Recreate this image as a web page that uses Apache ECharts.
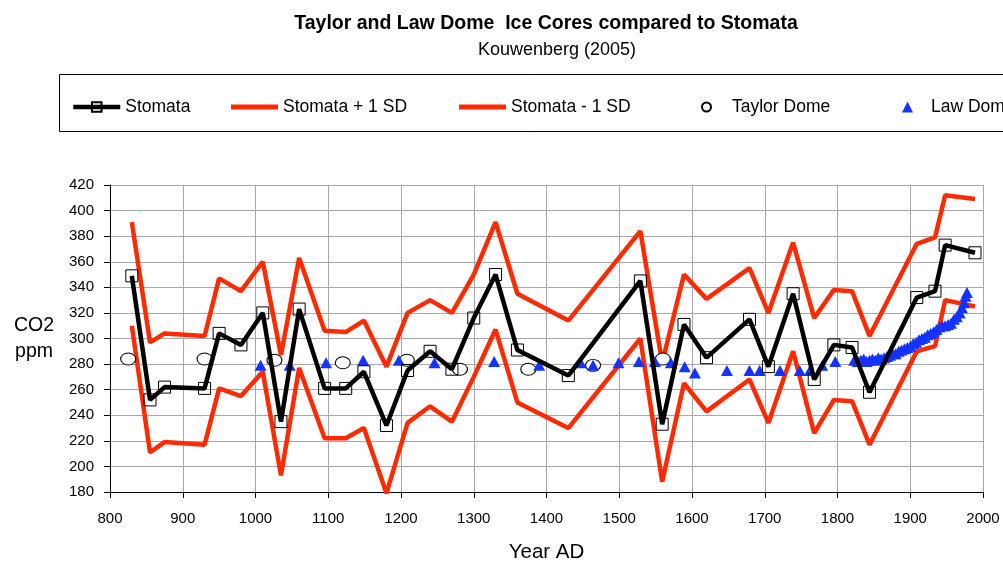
<!DOCTYPE html>
<html><head><meta charset="utf-8">
<script src="https://cdn.jsdelivr.net/npm/echarts@6/dist/echarts.min.js"></script>
<style>html,body{margin:0;padding:0;background:#fff}#c{width:1003px;height:561px}</style>
</head><body><div id="c"></div>
<script>
const stomataYears = [830, 855, 875, 930, 950, 980, 1010, 1035, 1060, 1095, 1124, 1149, 1180, 1209, 1240, 1270, 1300, 1330, 1360, 1430, 1529, 1559, 1589, 1620, 1679, 1705, 1739, 1768, 1795, 1820, 1844, 1909, 1934, 1948, 1989];
const stomata = [349, 252, 262, 261, 304, 295, 320, 235, 323, 261, 261, 274, 232, 275, 290, 276, 316, 350, 291, 271, 345, 233, 311, 285, 315, 278, 335, 268, 295, 293, 258, 332, 337, 373, 367];
const stomataPlus1SD = [391, 297, 304, 302, 347, 337, 360, 287, 363, 306, 305, 314, 278, 320, 330, 320, 350, 391, 335, 314, 384, 281, 350, 331, 355, 320, 375, 316, 338, 337, 302, 374, 379, 412, 409];
const stomataMinus1SD = [310, 211, 219, 217, 261, 255, 274, 193, 277, 222, 222, 230, 179, 234, 247, 235, 270, 307, 250, 230, 300, 188, 265, 243, 268, 234, 290, 226, 252, 251, 217, 290, 294, 330, 325];
const taylorYears = [825, 930, 1026, 1120, 1208, 1281, 1375, 1464, 1560];
const taylorDome = [284, 284, 283, 281, 283, 276, 276, 279, 284];
const lawYears = [1007, 1047, 1097, 1148, 1197, 1246, 1328, 1390, 1447, 1464, 1499, 1527, 1549, 1571, 1590, 1604, 1648, 1679, 1693, 1721, 1748, 1762, 1779, 1797,
  1823, 1828, 1832, 1836, 1840, 1844, 1848, 1852, 1856, 1860, 1864, 1868, 1872, 1876, 1880, 1884, 1888, 1892, 1896, 1900, 1904, 1908, 1912, 1916, 1920, 1924, 1928, 1932, 1936, 1940, 1944, 1948, 1952, 1956, 1960, 1964, 1968, 1971, 1974, 1976, 1978];
const lawDome = [279, 279, 281, 283, 283, 281, 282, 279, 281, 279, 281, 282, 282, 281, 278, 273, 275, 275, 275, 275, 275, 275, 279, 282,
  283, 282, 283, 284, 282, 283, 284, 283, 285, 284, 285, 286, 287, 288, 288, 290, 291, 292, 293, 294, 296, 297, 299, 300, 301, 303, 304, 305, 307, 309, 310, 310, 311, 312, 315, 317, 320, 324, 328, 333, 336];
const xTicks = [800, 900, 1000, 1100, 1200, 1300, 1400, 1500, 1600, 1700, 1800, 1900, 2000];
const yTicks = [180, 200, 220, 240, 260, 280, 300, 320, 340, 360, 380, 400, 420];

const pair = (xs, ys) => xs.map((x, i) => [x, ys[i]]);
const FONT = "'Liberation Sans', Arial, sans-serif";
const RED = '#ff2a00';
const BLUE = '#1433ff';

const chart = echarts.init(document.getElementById('c'), null, {renderer: 'canvas'});
const legendText = {color: '#000', fontSize: 17.5, fontFamily: FONT};
chart.setOption({
  animation: false,
  backgroundColor: '#fff',
  title: [
    {text: 'Taylor and Law Dome  Ice Cores compared to Stomata', left: 541, top: 9, textAlign: 'center',
     textStyle: {fontSize: 19.5, fontWeight: 'bold', color: '#000', fontFamily: FONT}},
    {text: 'Kouwenberg (2005)', left: 552, top: 36, textAlign: 'center',
     textStyle: {fontSize: 18, fontWeight: 'normal', color: '#000', fontFamily: FONT}}
  ],
  graphic: [
    {type: 'rect', shape: {x: 59.5, y: 74.5, width: 1000, height: 57}, style: {fill: 'none', stroke: '#000', lineWidth: 1}, silent: true}
  ],
  legend: [
    {data: ['Stomata'], left: 71, top: 98, padding: 0, itemWidth: 47, itemHeight: 12, textStyle: legendText,
     lineStyle: {width: 4.5, color: '#000'}},
    {data: [{name: 'Stomata + 1 SD', icon: 'rect'}], left: 231, top: 98, padding: 0, itemWidth: 47, itemHeight: 5, textStyle: legendText},
    {data: [{name: 'Stomata - 1 SD', icon: 'rect'}], left: 459, top: 98, padding: 0, itemWidth: 47, itemHeight: 5, textStyle: legendText},
    {data: ['Taylor Dome'], left: 701, top: 98, padding: 0, itemWidth: 9, itemHeight: 11, textStyle: Object.assign({padding: [0, 0, 0, 16]}, legendText)},
    {data: ['Law Dome'], left: 902, top: 98, padding: 0, itemWidth: 11, itemHeight: 11, textStyle: Object.assign({padding: [0, 0, 0, 13]}, legendText)}
  ],
  grid: {left: 110, right: 20, top: 185, bottom: 69, containLabel: false, outerBoundsMode: 'none'},
  xAxis: {
    type: 'value', min: 800, max: 2000, interval: 100,
    name: 'Year AD', nameLocation: 'middle', nameGap: 50,
    nameTextStyle: {fontSize: 20.5, color: '#000', fontFamily: FONT},
    axisLine: {lineStyle: {color: '#000', width: 1}},
    axisTick: {show: true, length: 6, lineStyle: {color: '#000'}},
    axisLabel: {color: '#000', fontSize: 15, fontFamily: FONT, margin: 19,
      formatter: v => xTicks.includes(v) ? String(v) : ''},
    splitLine: {show: true, lineStyle: {color: '#a8a8a8', width: 1}}
  },
  yAxis: {
    type: 'value', min: 180, max: 420, interval: 20,
    name: 'CO2\nppm', nameLocation: 'middle', nameRotate: 0, nameGap: 76,
    nameTextStyle: {fontSize: 19.5, color: '#000', fontFamily: FONT, lineHeight: 26, align: 'center'},
    axisLine: {show: true, lineStyle: {color: '#000', width: 1}},
    axisTick: {show: true, length: 6, lineStyle: {color: '#000'}},
    axisLabel: {color: '#000', fontSize: 15, fontFamily: FONT, margin: 16,
      formatter: v => yTicks.includes(v) ? String(v) : ''},
    splitLine: {show: true, lineStyle: {color: '#a8a8a8', width: 1}}
  },
  series: [
    {name: 'Stomata + 1 SD', type: 'line', data: pair(stomataYears, stomataPlus1SD), symbol: 'none',
     lineStyle: {color: RED, width: 4.5}, itemStyle: {color: RED}, z: 2},
    {name: 'Stomata - 1 SD', type: 'line', data: pair(stomataYears, stomataMinus1SD), symbol: 'none',
     lineStyle: {color: RED, width: 4.5}, itemStyle: {color: RED}, z: 2},
    {name: 'Taylor Dome', type: 'scatter', data: pair(taylorYears, taylorDome), symbol: 'circle', symbolSize: [15, 12],
     itemStyle: {color: '#fff', borderColor: '#000', borderWidth: 1, opacity: 1}, z: 3},
    {name: 'Law Dome', type: 'scatter', data: pair(lawYears, lawDome), symbol: 'triangle', symbolSize: [12, 11],
     itemStyle: {color: BLUE, opacity: 1}, z: 4},
    {name: 'Stomata', type: 'line', data: pair(stomataYears, stomata), symbol: 'rect', symbolSize: 12,
     showAllSymbol: true,
     lineStyle: {color: '#000', width: 4.5}, itemStyle: {color: 'rgba(0,0,0,0)', borderColor: '#000', borderWidth: 1}, z: 5}
  ]
});
</script></body></html>
